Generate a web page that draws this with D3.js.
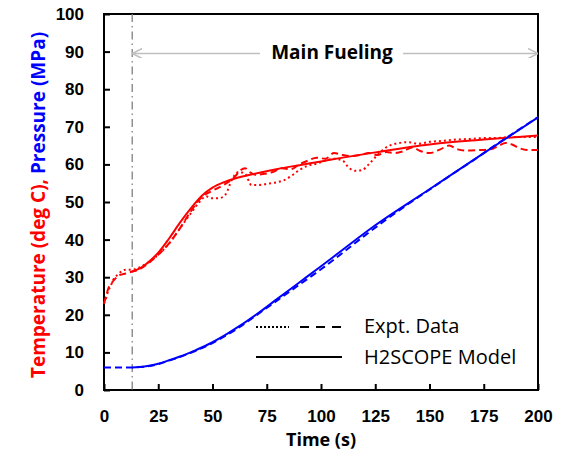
<!DOCTYPE html>
<html>
<head>
<meta charset="utf-8">
<script src="https://cdn.jsdelivr.net/npm/d3@7"></script>
<style>
  body { margin: 0; background: #fff; }
  svg { font-family: "Open Sans", sans-serif; }
  .tick line { stroke: #000; stroke-width: 2; }
  .tick text { font-size: 17px; font-weight: bold; fill: #000; }
</style>
</head>
<body>
<svg id="chart"></svg>
<script>
// time axis and tick labels
var xTicks = [0, 25, 50, 75, 100, 125, 150, 175, 200]
var yTicks = [0, 10, 20, 30, 40, 50, 60, 70, 80, 90, 100]
var fuelStart = 13

// H2SCOPE model (solid)
var tModel = [13, 16, 20, 25, 30, 35, 40, 45, 50, 55, 60, 70, 80, 90, 100, 110, 125, 150, 175, 200]
var tempModel = [31.5, 32.2, 33.8, 36.5, 40.3, 44.5, 48.3, 51.6, 53.8, 55.2, 56.2, 57.6, 58.8, 59.8, 60.8, 61.8, 63.2, 65.3, 66.6, 67.7]
var presModel = [6, 6.1, 6.4, 7.0, 7.9, 8.9, 10.0, 11.3, 12.7, 14.3, 16.1, 20.0, 24.3, 28.6, 32.9, 37.3, 43.8, 53.4, 63.0, 72.5]

// expt. temperature, dotted
var tDot = [0, 1, 2, 3, 4, 5, 6, 8, 10, 13, 16, 20, 25, 30, 35, 40, 44, 47, 50, 53, 56, 59, 62, 65, 68, 71, 74, 77, 80, 83, 86, 90, 94, 98, 102, 106, 110, 113, 116, 119, 122, 126, 130, 135, 140, 145, 150, 155, 160, 165, 170, 175, 180, 185, 190, 195, 200]
var tempDot = [23, 24.5, 26.5, 27.5, 29, 30, 30.5, 31.5, 32, 32, 32.5, 33.8, 36, 39, 43, 47, 50, 51.5, 51, 51, 52, 56, 58, 57.5, 54.5, 54.5, 54.7, 55, 55.3, 55.8, 56.8, 58.5, 59.7, 60.2, 61, 61.5, 61, 59, 58.3, 58.5, 60, 62.5, 64.5, 65.6, 65.9, 65.5, 66, 66.2, 66.5, 66.7, 66.8, 67, 67, 67.2, 67.3, 67.3, 67.3]

// expt. temperature, dashed
var tDash = [0, 1, 2, 3, 5, 7, 10, 13, 16, 20, 25, 30, 35, 40, 45, 50, 55, 60, 63, 65, 67, 70, 74, 78, 82, 86, 90, 94, 98, 102, 106, 110, 114, 118, 122, 126, 130, 134, 138, 142, 146, 150, 155, 159, 163, 167, 172, 178, 182, 185, 188, 192, 196, 200]
var tempDash = [23, 25, 27, 28, 29.5, 30.5, 31, 31.5, 32, 33.5, 36, 39, 43, 47.5, 51.3, 53, 54.5, 56.5, 58.5, 59, 58, 57.2, 57.5, 58, 59, 58.7, 60, 61, 61.8, 61.5, 63, 62.5, 62.2, 62.5, 63, 62.5, 63.3, 63, 63.5, 64.5, 63.5, 63, 64, 65, 64, 63.7, 63.8, 64, 65, 65.7, 65.3, 64.2, 63.8, 63.8]

// expt. pressure, dashed
var tPres = [0, 5, 10, 13, 20, 25, 30, 40, 50, 60, 70, 80, 90, 100, 110, 120, 130, 140, 150, 160, 170, 180, 190, 200]
var presDash = [6, 6, 6, 6, 6.3, 6.9, 7.8, 9.9, 12.5, 15.8, 19.8, 23.9, 28.0, 32.1, 36.5, 41.0, 45.3, 49.4, 53.3, 57.2, 61.0, 65.0, 68.8, 72.6]

var W = 577, H = 454
var margin = {top: 14, right: 39, bottom: 64, left: 104}
var innerW = W - margin.left - margin.right
var innerH = H - margin.top - margin.bottom

var svg = d3.select('svg#chart').attr('width', W).attr('height', H)
var plot = svg.append('g')
    .attr('transform', 'translate(' + margin.left + ',' + margin.top + ')')

var x = d3.scaleLinear().domain([0, 200]).range([0, innerW])
var y = d3.scaleLinear().domain([0, 100]).range([innerH, 0])

// axes with inside ticks
plot.append('g')
    .attr('transform', 'translate(0,' + innerH + ')')
    .call(d3.axisBottom(x).tickValues(xTicks).tickSize(-6).tickPadding(20))
    .call(g => g.select('.domain').remove())
plot.append('g')
    .call(d3.axisLeft(y).tickValues(yTicks).tickSize(-6).tickPadding(20))
    .call(g => g.select('.domain').remove())

// frame
plot.append('rect')
    .attr('width', innerW).attr('height', innerH)
    .attr('fill', 'none').attr('stroke', '#000').attr('stroke-width', 2)

// start of main fueling
plot.append('line')
    .attr('x1', x(fuelStart)).attr('x2', x(fuelStart))
    .attr('y1', 0).attr('y2', innerH)
    .attr('stroke', '#808080').attr('stroke-width', 1.3)
    .attr('stroke-dasharray', '8,4,1.5,4')

// arrow
var defs = svg.append('defs')
defs.append('marker').attr('id', 'ah').attr('viewBox', '0 0 10 10')
    .attr('refX', 10).attr('refY', 5).attr('markerWidth', 10).attr('markerHeight', 10)
    .attr('markerUnits', 'userSpaceOnUse').attr('orient', 'auto-start-reverse')
  .append('path').attr('d', 'M0,0 L10,5 L0,10').attr('fill', 'none')
    .attr('stroke', '#bfbfbf').attr('stroke-width', 1.5)

var arrowY = y(89.5)
plot.append('line')
    .attr('x1', x(fuelStart)).attr('x2', 156).attr('y1', arrowY).attr('y2', arrowY)
    .attr('stroke', '#bfbfbf').attr('stroke-width', 1.5)
    .attr('marker-start', 'url(#ah)')
plot.append('line')
    .attr('x1', 299).attr('x2', innerW).attr('y1', arrowY).attr('y2', arrowY)
    .attr('stroke', '#bfbfbf').attr('stroke-width', 1.5)
    .attr('marker-end', 'url(#ah)')
plot.append('text')
    .attr('x', 228).attr('y', arrowY + 6)
    .attr('text-anchor', 'middle')
    .style('font-size', '19px').style('font-weight', 'bold')
    .text('Main Fueling')

// series
var line = d3.line().x(d => x(d[0])).y(d => y(d[1])).curve(d3.curveMonotoneX)
function drawSeries(ts, vs, color, dash) {
    plot.append('path')
        .datum(ts.map((t, i) => [t, vs[i]]))
        .attr('d', line)
        .attr('fill', 'none')
        .attr('stroke', color)
        .attr('stroke-width', 2)
        .attr('stroke-dasharray', dash)
}
drawSeries(tDot, tempDot, '#ff0000', '2,3')
drawSeries(tDash, tempDash, '#ff0000', '7,4')
drawSeries(tModel, tempModel, '#ff0000', null)
drawSeries(tPres, presDash, '#0000ff', '7,4')
drawSeries(tModel, presModel, '#0000ff', null)

// legend
var lg = svg.append('g')
lg.append('line').attr('x1', 256).attr('x2', 289).attr('y1', 327).attr('y2', 327)
    .attr('stroke', '#000').attr('stroke-width', 2).attr('stroke-dasharray', '2,2')
lg.append('line').attr('x1', 300).attr('x2', 342).attr('y1', 327).attr('y2', 327)
    .attr('stroke', '#000').attr('stroke-width', 2).attr('stroke-dasharray', '9,7')
lg.append('line').attr('x1', 256).attr('x2', 342).attr('y1', 357).attr('y2', 357)
    .attr('stroke', '#000').attr('stroke-width', 2)
lg.append('text').attr('x', 364).attr('y', 333).style('font-size', '20px').text('Expt. Data')
lg.append('text').attr('x', 364).attr('y', 364).style('font-size', '20px').text('H2SCOPE Model')

// axis titles
svg.append('text')
    .attr('x', margin.left + x(100)).attr('y', 446)
    .attr('text-anchor', 'middle')
    .style('font-size', '18px').style('font-weight', 'bold')
    .text('Time (s)')

var yTitle = svg.append('text')
    .attr('transform', 'translate(38,205) rotate(-90)')
    .attr('text-anchor', 'middle').attr('dy', '0.35em')
    .style('font-size', '19px').style('font-weight', 'bold')
yTitle.append('tspan').attr('fill', '#ff0000').text('Temperature (deg C), ')
yTitle.append('tspan').attr('fill', '#0000ff').text('Pressure (MPa)')
</script>
</body>
</html>
